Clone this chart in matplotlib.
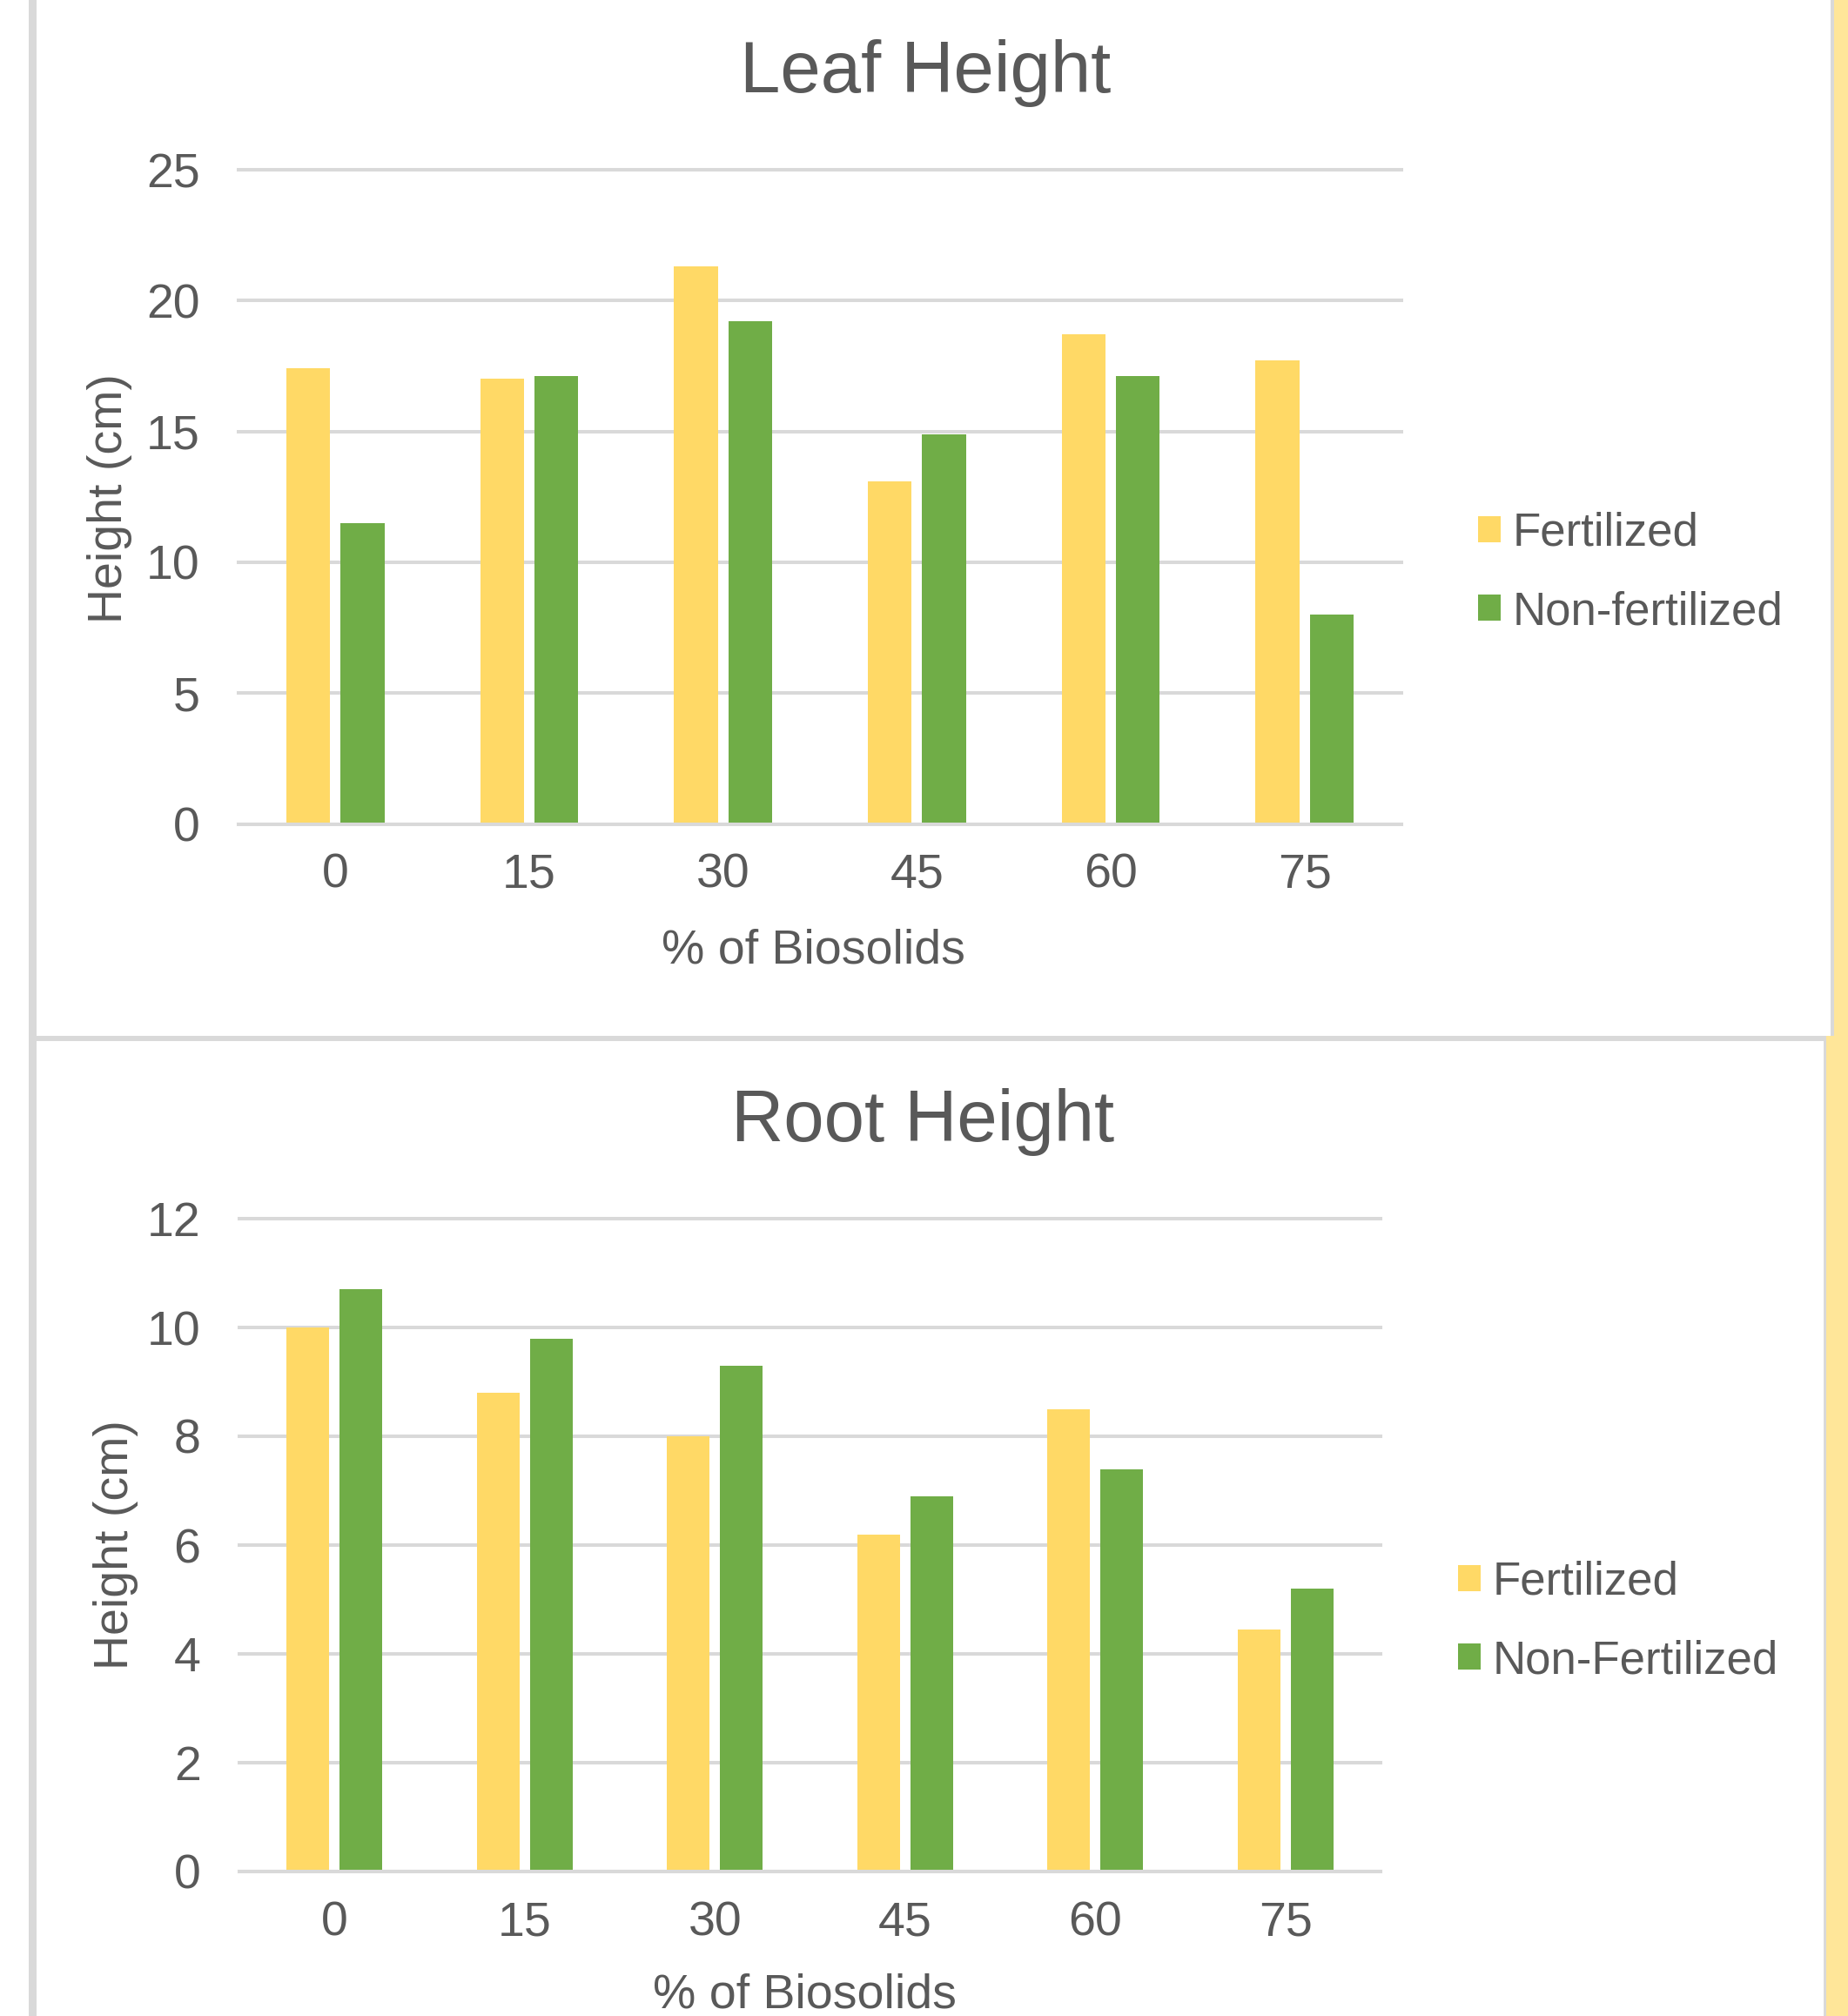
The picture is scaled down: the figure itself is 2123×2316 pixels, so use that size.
import numpy as np
import matplotlib
matplotlib.use("Agg")
import matplotlib.pyplot as plt
from matplotlib.patches import Rectangle
from matplotlib import font_manager

# data
percent = ["0", "15", "30", "45", "60", "75"]
leaf_fertilized = [17.4, 17.0, 21.3, 13.1, 18.7, 17.7]
leaf_nonfertilized = [11.5, 17.1, 19.2, 14.9, 17.1, 8.0]
root_fertilized = [10.0, 8.8, 8.0, 6.2, 8.5, 4.45]
root_nonfertilized = [10.7, 9.8, 9.3, 6.9, 7.4, 5.2]

W, H = 2123, 2316
DPI = 200
YELLOW = "#FFD966"
GREEN = "#70AD47"
GRID = "#D9D9D9"
TEXT = "#595959"
PANE = "#FFE699"

plt.rcParams["font.family"] = ["Liberation Sans", "DejaVu Sans"]

names = {f.name for f in font_manager.fontManager.ttflist}
if "Liberation Sans Narrow" in names:
    ylabel_font = dict(family=["Liberation Sans Narrow", "Liberation Sans"], size=24.5)
else:
    ylabel_font = dict(family=["Liberation Sans", "DejaVu Sans"], size=20)


def px_box(x0, y0, x1, y1):
    # pixel box (top-left origin) -> figure fraction [left, bottom, width, height]
    return [x0 / W, 1 - y1 / H, (x1 - x0) / W, (y1 - y0) / H]


fig = plt.figure(figsize=(W / DPI, H / DPI), dpi=DPI, facecolor="white")

# sheet background: borders of the two chart objects and the yellow strip on the right
for x0, y0, x1, y1, c in [
    (33, 0, 42, H, GRID),
    (42, 1190, 2107, 1196, GRID),
    (2103, 0, 2107, 1196, GRID),
    (2107, 0, W, 1196, PANE),
    (2095, 1196, 2097.5, H, GRID),
    (2097.5, 1190, W, H, PANE),
]:
    l, b, w, h = px_box(x0, y0, x1, y1)
    fig.add_artist(Rectangle((l, b), w, h, transform=fig.transFigure,
                             facecolor=c, edgecolor="none", zorder=-5))


def draw_chart(box, title, fert, nonfert, ymax, ystep, labels,
               title_x, xlabel_xy, ylabel_xy, legend_xy):
    ax = fig.add_axes(px_box(*box))
    ax.set_facecolor("none")
    x = np.arange(len(percent))
    b1 = ax.bar(x - 0.14, fert, 0.225, color=YELLOW, zorder=2)
    b2 = ax.bar(x + 0.14, nonfert, 0.225, color=GREEN, zorder=2)
    ax.set_xlim(-0.5, len(percent) - 0.5)
    ax.set_ylim(0, ymax)
    ax.set_yticks(np.arange(0, ymax + 0.1, ystep))
    ax.set_xticks(x, percent)
    ax.grid(axis="y", color=GRID, linewidth=1.45, clip_on=False)
    ax.set_axisbelow(True)
    for s in ["left", "right", "top"]:
        ax.spines[s].set_visible(False)
    ax.spines["bottom"].set_color(GRID)
    ax.spines["bottom"].set_linewidth(1.45)
    ax.tick_params(length=0, labelsize=20, labelcolor=TEXT)
    ax.tick_params(axis="y", pad=16)
    ax.tick_params(axis="x", pad=12)

    ax.set_title(title, fontsize=30, color=TEXT, x=title_x, y=1.118,
                 va="baseline", pad=0)

    ax.set_xlabel("% of Biosolids", fontsize=20, color=TEXT)
    ax.xaxis.set_label_coords(*xlabel_xy)
    ax.xaxis.label.set_verticalalignment("baseline")

    ax.set_ylabel("Height (cm)", color=TEXT, **ylabel_font)
    ax.yaxis.set_label_coords(*ylabel_xy)
    ax.yaxis.label.set_verticalalignment("baseline")

    leg = ax.legend([b1, b2], labels, loc="center left",
                    bbox_to_anchor=(legend_xy[0] / W, 1 - legend_xy[1] / H),
                    bbox_transform=fig.transFigure, frameon=False,
                    borderpad=0, borderaxespad=0, fontsize=19,
                    handlelength=0.5, handleheight=0.5, handletextpad=0.25,
                    labelspacing=0.76)
    for t in leg.get_texts():
        t.set_color(TEXT)
    return ax


draw_chart((274, 195, 1610, 946.5), "Leaf Height", leaf_fertilized, leaf_nonfertilized,
           25, 5, ["Fertilized", "Non-fertilized"],
           0.5906, (0.494, -0.213), (-0.1005, 0.498), (1698, 658))

draw_chart((275, 1400, 1586, 2150), "Root Height", root_fertilized, root_nonfertilized,
           12, 2, ["Fertilized", "Non-Fertilized"],
           0.599, (0.495, -0.209), (-0.0975, 0.5), (1675, 1863))

fig.savefig("out.png", dpi=DPI, facecolor="white")
